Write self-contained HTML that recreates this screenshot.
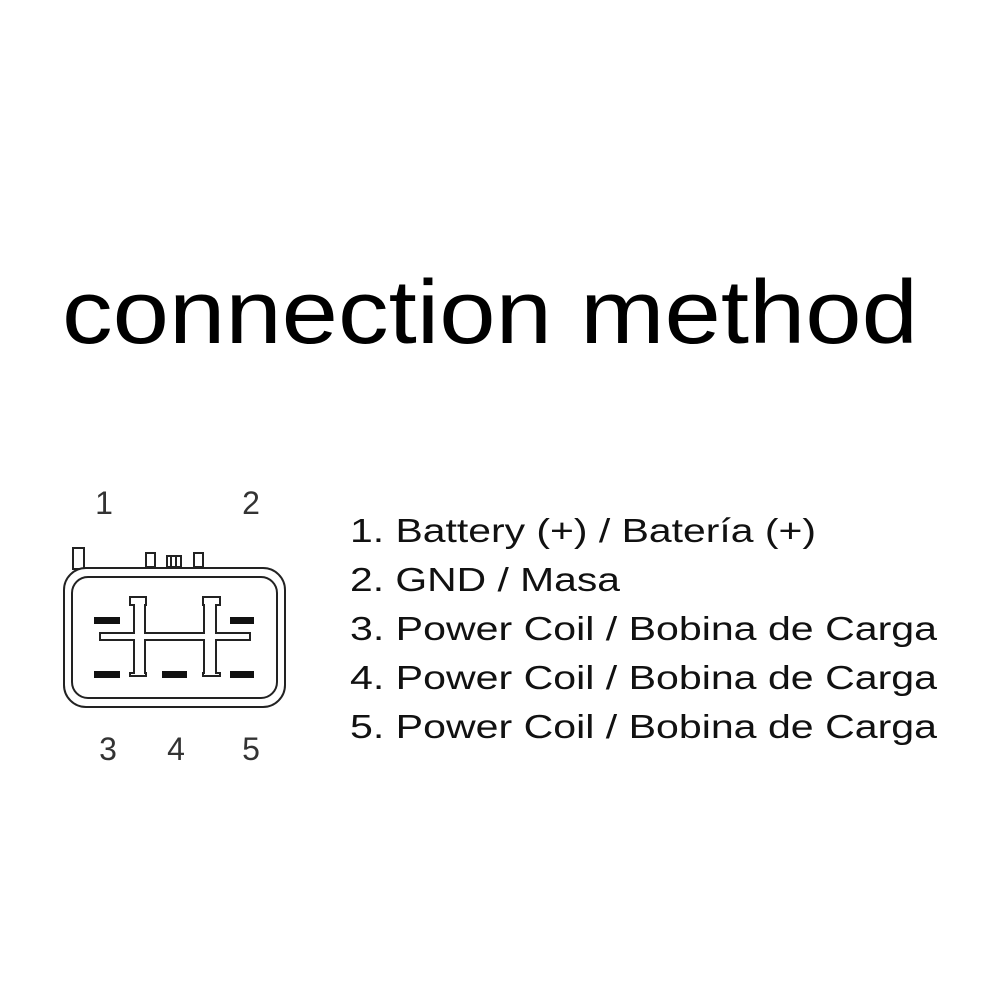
<!DOCTYPE html>
<html><head><style>
html,body{margin:0;padding:0;background:#fff;}
svg{display:block}
</style></head><body>
<svg width="1000" height="1000" viewBox="0 0 1000 1000" xmlns="http://www.w3.org/2000/svg">
<rect width="1000" height="1000" fill="#fff"/>
<text x="62" y="343" font-family="Liberation Sans, sans-serif" font-size="90" fill="#000" textLength="856" lengthAdjust="spacingAndGlyphs">connection method</text>

<g font-family="Liberation Sans, sans-serif" font-size="33" fill="#111">
<text x="350" y="542" textLength="466" lengthAdjust="spacingAndGlyphs">1. Battery (+) / Batería (+)</text>
<text x="350" y="591" textLength="270" lengthAdjust="spacingAndGlyphs">2. GND / Masa</text>
<text x="350" y="640" textLength="587" lengthAdjust="spacingAndGlyphs">3. Power Coil / Bobina de Carga</text>
<text x="350" y="689" textLength="587" lengthAdjust="spacingAndGlyphs">4. Power Coil / Bobina de Carga</text>
<text x="350" y="738" textLength="587" lengthAdjust="spacingAndGlyphs">5. Power Coil / Bobina de Carga</text>
</g>

<g font-family="Liberation Sans, sans-serif" font-size="32" fill="#333" text-anchor="middle">
<text x="104" y="514">1</text>
<text x="251" y="514">2</text>
<text x="108" y="760">3</text>
<text x="176" y="760">4</text>
<text x="251" y="760">5</text>
</g>

<g fill="none" stroke="#222" stroke-width="2">
<rect x="73" y="548" width="11" height="21" fill="#fff"/>
<rect x="146" y="553" width="9" height="14"/>
<rect x="194" y="553" width="9" height="14"/>
<rect x="167" y="556" width="14" height="11"/>
<line x1="171" y1="556" x2="171" y2="567"/><line x1="176" y1="556" x2="176" y2="567"/>
<rect x="64" y="568" width="221" height="139" rx="22" fill="#fff"/>
<rect x="72" y="577" width="205" height="121" rx="16"/>
<path d="M130 597 H146 V605 H145 V633 H204 V605 H203 V597 H220 V605 H216 V633 H250 V640 H216 V673 H220 V676 H203 V673 H204 V640 H145 V673 H146 V676 H130 V673 H134 V640 H100 V633 H134 V605 H130 Z"/>
</g>
<g fill="#111">
<rect x="94" y="617" width="26" height="7"/>
<rect x="230" y="617" width="24" height="7"/>
<rect x="94" y="671" width="26" height="7"/>
<rect x="162" y="671" width="25" height="7"/>
<rect x="230" y="671" width="24" height="7"/>
</g>
</svg>
</body></html>
